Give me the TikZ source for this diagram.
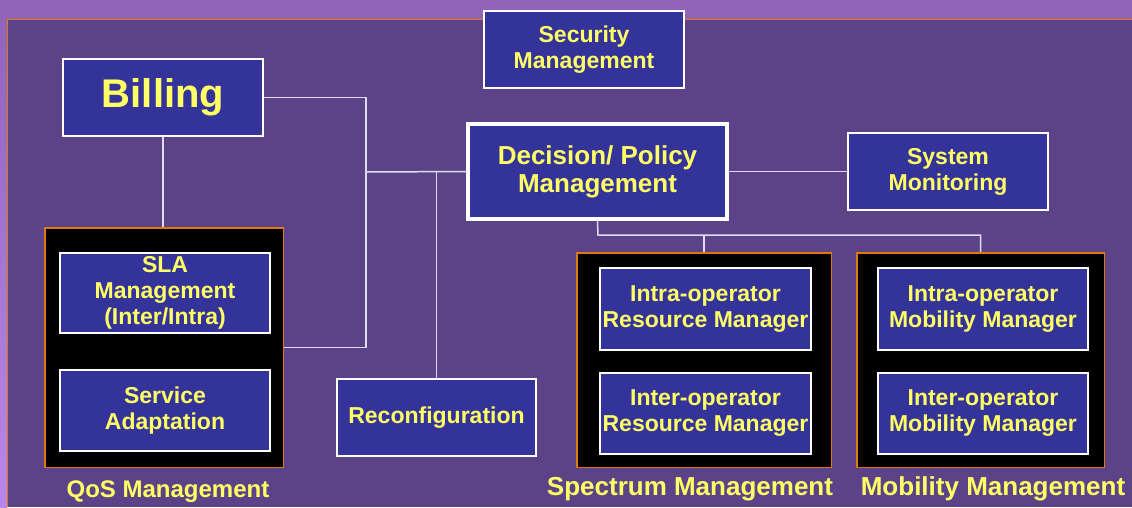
\documentclass[tikz,border=0pt]{standalone}
\usepackage{fontspec}
\setmainfont{Liberation Sans}
\usepackage{xcolor}
\usepackage{tikz}
\definecolor{bandpurple}{RGB}{145,100,186}
\definecolor{edgepurple}{RGB}{185,135,235}
\definecolor{slidepurple}{RGB}{92,66,135}
\definecolor{boxblue}{RGB}{51,51,153}
\definecolor{textyellow}{RGB}{255,255,102}
\definecolor{rimorange}{RGB}{224,120,16}
\definecolor{wirewhite}{RGB}{225,218,240}

\begin{document}
\begin{tikzpicture}[x=1pt, y=-1pt,
    box/.style={draw=white, line width=1.5pt, fill=boxblue, text=textyellow, align=center,
        font=\fontsize{23}{26}\selectfont\bfseries, minimum width=200pt, minimum height=77pt, inner sep=0pt},
    group/.style={draw=rimorange, line width=1.5pt, fill=black, inner sep=0pt},
    grouplabel/.style={text=textyellow, anchor=base, font=\fontsize{26}{28}\selectfont\bfseries},
    wire/.style={draw=wirewhite, line width=1.5pt}]

\useasboundingbox (0,0) rectangle (1132,507);

% Slide background
\fill[bandpurple] (0,0) rectangle (1132,507);
\shade[top color=bandpurple, bottom color=edgepurple] (0,19) rectangle (7,507);
\fill[slidepurple] (7,19) rectangle (1132,507);
\draw[rimorange, line width=1pt] (7,507) -- (7,19) -- (1132,19);

% Top row
\node[box, font=\fontsize{40}{44}\selectfont\bfseries] (billing) at (163,97.5) {Billing};
\node[box] (security) at (584,49.5) {Security\\Management};
\node[box, line width=4pt, minimum width=259pt, minimum height=95pt,
    font=\fontsize{26}{28}\selectfont\bfseries] (decision) at (597.5,171.5) {Decision/ Policy\\Management};
\node[box] (sysmon) at (948,171.5) {System\\Monitoring};
\node[box, minimum width=199pt] (reconf) at (436.5,417.5) {Reconfiguration};

% QoS management group
\node[group, minimum width=238.5pt, minimum height=239.5pt] (qos) at (164,347.5) {};
\node[box, minimum width=210pt, minimum height=80pt] (sla) at (165,293) {SLA\\Management\\(Inter/Intra)};
\node[box, minimum width=210pt, minimum height=81pt] (service) at (165,410.5) {Service\\Adaptation};
\node[grouplabel, font=\fontsize{24}{26}\selectfont\bfseries] (qoslabel) at (168,497) {QoS Management};

% Spectrum management group
\node[group, minimum width=254.5pt, minimum height=214.5pt] (spectrum) at (704,360) {};
\node[box, minimum width=211pt, minimum height=82pt] (intrares) at (705.5,309) {Intra-operator\\Resource Manager};
\node[box, minimum width=211pt, minimum height=81pt] (interres) at (705.5,413.5) {Inter-operator\\Resource Manager};
\node[grouplabel] (spectrumlabel) at (690,495) {Spectrum Management};

% Mobility management group
\node[group, minimum width=247.5pt, minimum height=214.5pt] (mobility) at (980.5,360) {};
\node[box, minimum width=210pt, minimum height=82pt] (intramob) at (983,309) {Intra-operator\\Mobility Manager};
\node[box, minimum width=210pt, minimum height=81pt] (intermob) at (983,413.5) {Inter-operator\\Mobility Manager};
\node[grouplabel] (mobilitylabel) at (993,495) {Mobility Management};

% Connectors
\coordinate (hub) at (366,172);
\coordinate (fork) at (598,235);
\draw[wire] (billing.east) -| (hub) |- (qos.east);
\draw[wire] (hub) -- (decision.west);
\draw[wire] (billing.south) -- (billing.south |- qos.north);
\draw[wire] (hub -| reconf.north) -- (reconf.north);
\draw[wire] (decision.east) -- (sysmon.west);
\draw[wire] (decision.south) -- (fork) -| (mobility.north);
\draw[wire] (fork -| spectrum.north) -- (spectrum.north);

\end{tikzpicture}
\end{document}
